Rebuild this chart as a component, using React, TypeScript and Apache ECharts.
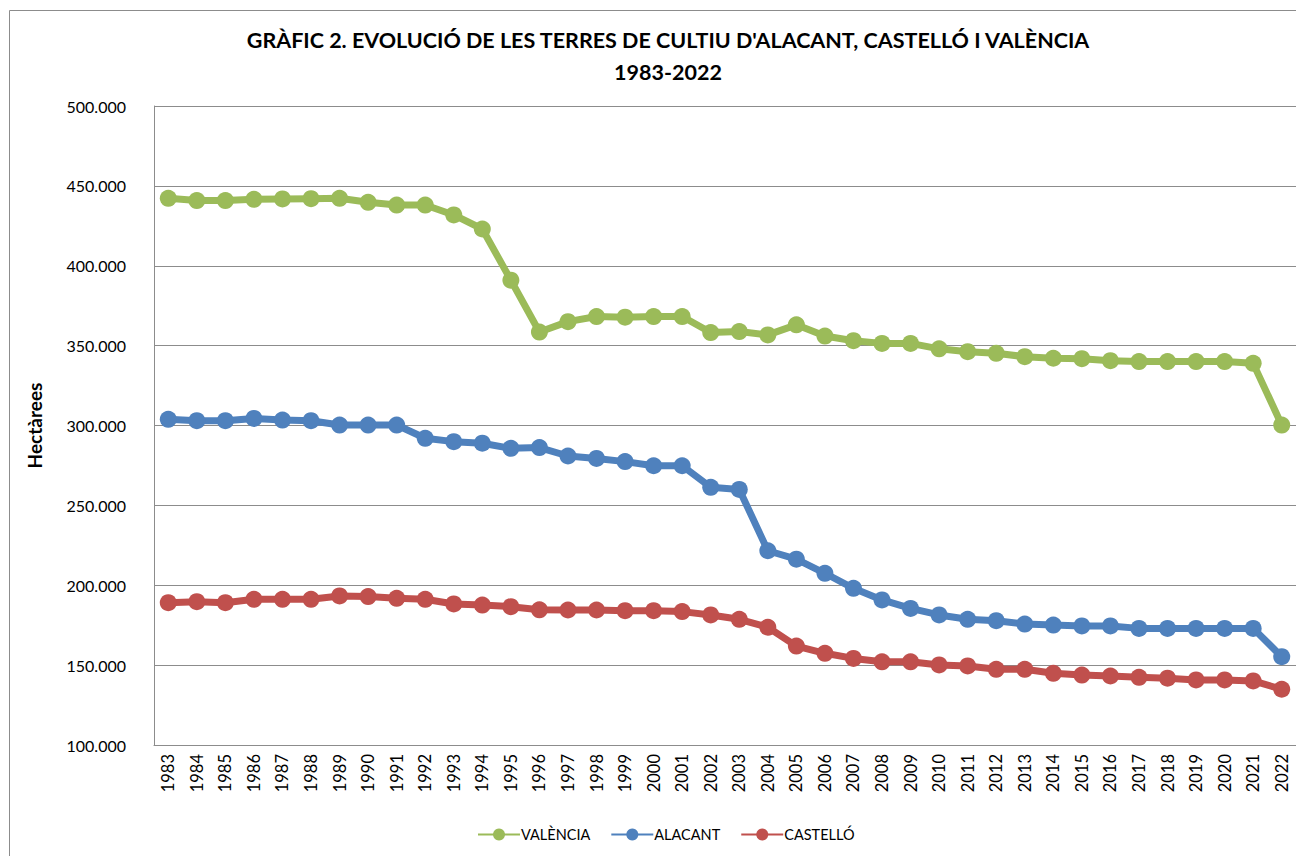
import React, { useEffect, useRef } from "react";
import * as echarts from "echarts";

const years = [
  "1983","1984","1985","1986","1987","1988","1989","1990","1991","1992",
  "1993","1994","1995","1996","1997","1998","1999","2000","2001","2002",
  "2003","2004","2005","2006","2007","2008","2009","2010","2011","2012",
  "2013","2014","2015","2016","2017","2018","2019","2020","2021","2022",
];

const valencia = [
  442200, 440800, 440800, 441600, 441800, 442000, 442200, 439700, 438000, 438000,
  431800, 423000, 391000, 358500, 365000, 368200, 367800, 368200, 368200, 358200,
  358800, 356700, 363000, 356000, 353100, 351400, 351400, 348000, 346200, 345200,
  343100, 342100, 341800, 340600, 340000, 340000, 340000, 340000, 338900, 300300,
];

const alacant = [
  303900, 303000, 303000, 304400, 303400, 303000, 300300, 300300, 300300, 292000,
  289900, 288900, 285700, 286200, 280900, 279400, 277400, 274800, 274800, 261300,
  260000, 221600, 216300, 207500, 198100, 190800, 185500, 181400, 178700, 177800,
  175700, 175100, 174500, 174500, 173000, 173000, 173000, 173000, 173000, 155300,
];

const castello = [
  189100, 189700, 189100, 191200, 191200, 191200, 193300, 192900, 191800, 191200,
  188300, 187600, 186600, 184600, 184500, 184500, 184100, 184100, 183500, 181400,
  178700, 173700, 161900, 157400, 154200, 152100, 152100, 150100, 149500, 147400,
  147400, 144900, 143800, 143200, 142400, 141800, 140700, 140700, 140100, 134900,
];

const yMin = 100000;
const yMax = 500000;
const yStep = 50000;

const titleLine1 = "GRÀFIC 2. EVOLUCIÓ DE LES TERRES DE CULTIU D'ALACANT, CASTELLÓ I VALÈNCIA";
const titleLine2 = "1983-2022";
const yAxisName = "Hectàrees";

const FONT = "Lato, 'Open Sans', sans-serif";

function fmt(v: number): string {
  return String(Math.round(v)).replace(/\B(?=(\d{3})+(?!\d))/g, ".");
}

export default function App() {
  const ref = useRef<HTMLDivElement>(null);

  useEffect(() => {
    if (!ref.current) return;
    const chart = echarts.init(ref.current, null, { renderer: "svg" });

    const mk = (name: string, data: number[], color: string) => ({
      name,
      type: "line",
      data,
      symbol: "circle",
      symbolSize: 17,
      lineStyle: { width: 7, color },
      itemStyle: { color },
      emphasis: { disabled: true },
    });

    chart.setOption({
      animation: false,
      backgroundColor: "#ffffff",
      textStyle: { fontFamily: FONT },
      title: [
        {
          text: titleLine1,
          left: 663,
          textAlign: "center",
          top: 24,
          textStyle: { fontFamily: FONT, fontSize: 21.5, fontWeight: "bold", color: "#000" },
        },
        {
          text: titleLine2,
          left: 663,
          textAlign: "center",
          top: 56,
          textStyle: { fontFamily: FONT, fontSize: 21.5, fontWeight: "bold", color: "#000" },
        },
      ],
      graphic: [
        {
          type: "rect",
          shape: { x: 9.5, y: 10.5, width: 1400, height: 1000 },
          style: { fill: "none", stroke: "#8c8c8c", lineWidth: 1 },
          silent: true,
        },
      ],
      legend: {
        bottom: 9,
        left: 472,
        itemWidth: 42,
        itemHeight: 15,
        itemGap: 20,
        textStyle: { fontFamily: FONT, fontSize: 14.5, color: "#000", padding: [0, 0, 0, -4] },
        data: ["VALÈNCIA", "ALACANT", "CASTELLÓ"],
      },
      grid: { left: 154, top: 106, right: 0, bottom: 111, containLabel: false },
      xAxis: {
        type: "category",
        data: years,
        boundaryGap: true,
        axisLine: { show: true, lineStyle: { color: "#8c8c8c", width: 1 } },
        axisTick: { show: false },
        axisLabel: {
          rotate: 90,
          interval: 0,
          fontFamily: FONT,
          fontSize: 16.5,
          color: "#000",
          margin: 9,
        },
      },
      yAxis: {
        type: "value",
        min: yMin,
        max: yMax,
        interval: yStep,
        name: yAxisName,
        nameLocation: "middle",
        nameGap: 110,
        nameRotate: 90,
        nameTextStyle: { fontFamily: FONT, fontSize: 19, fontWeight: "bold", color: "#000" },
        axisLine: { show: true, lineStyle: { color: "#8c8c8c", width: 1 } },
        axisTick: { show: false },
        splitLine: { show: true, lineStyle: { color: "#8c8c8c", width: 1 } },
        axisLabel: {
          formatter: (v: number) => fmt(v),
          fontFamily: FONT,
          fontSize: 16,
          color: "#000",
          margin: 28,
        },
      },
      series: [
        mk("VALÈNCIA", valencia, "#9BBB59"),
        mk("ALACANT", alacant, "#4F81BD"),
        mk("CASTELLÓ", castello, "#C0504D"),
      ],
    });

    return () => chart.dispose();
  }, []);

  return (
    <div
      ref={ref}
      style={{ position: "absolute", left: 0, top: 0, width: 1296, height: 856 }}
    />
  );
}
